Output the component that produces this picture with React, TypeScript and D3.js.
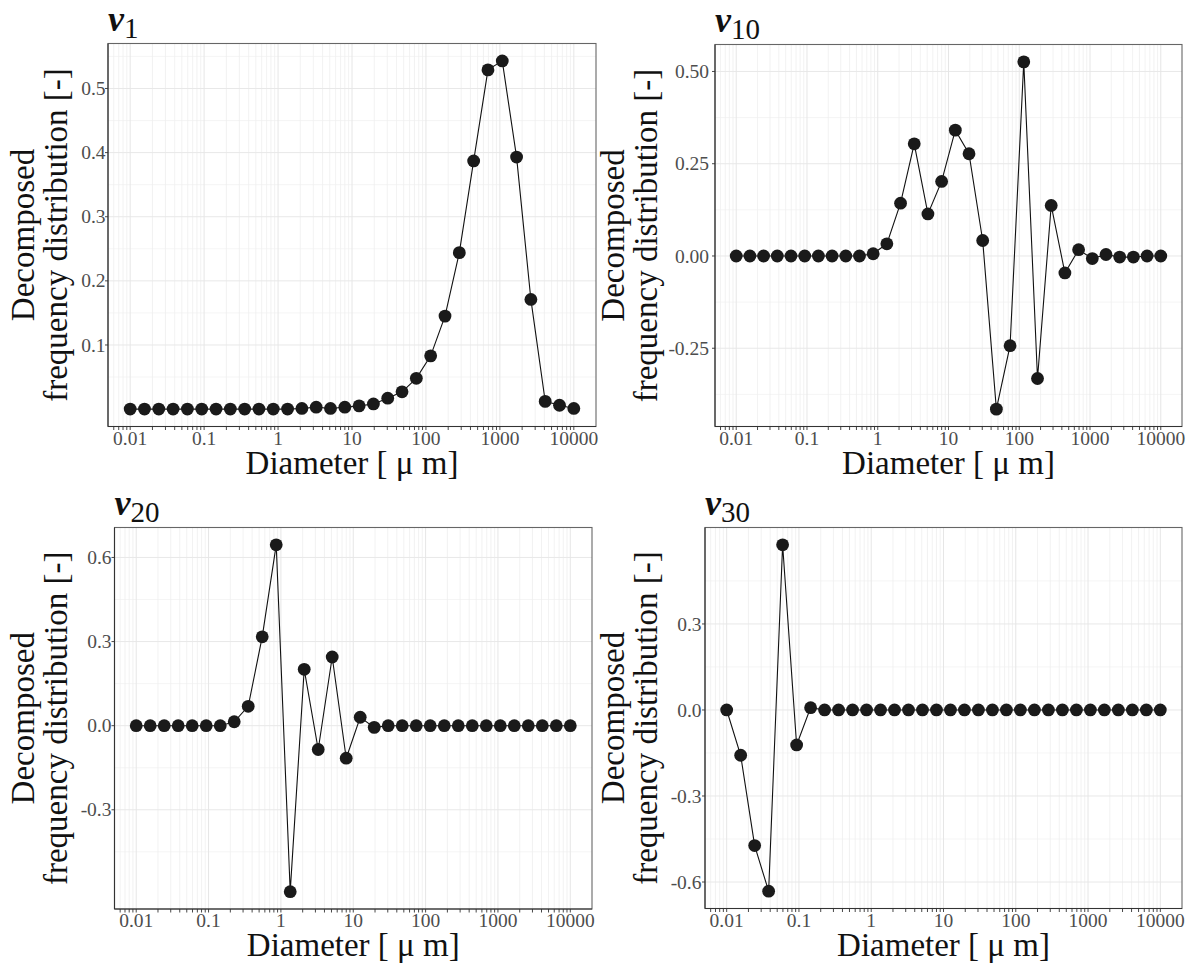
import React from 'react';
import * as d3 from 'd3';

// particle diameters [um], 32 log-spaced classes
const DIAMETERS = [
  0.01, 0.01561, 0.02438, 0.03806, 0.05942, 0.09284, 0.145, 0.2263, 0.3534, 0.5517, 0.8614,
  1.345, 2.1, 3.279, 5.119, 7.993, 12.48, 19.49, 30.42, 47.5, 74.16, 115.8, 181.1, 282.8,
  441.7, 689.9, 1077, 1682, 2626, 4102, 6405, 10000,
];

const V1 = [
  0, 0, 0, 0, 0, 0, 0, 0, 0, 0, 0, 0, 0.001, 0.003, 0.001, 0.003, 0.005, 0.008, 0.017, 0.027,
  0.048, 0.083, 0.145, 0.244, 0.387, 0.529, 0.543, 0.393, 0.171, 0.012, 0.006, 0.001,
];
const V10 = [
  0, 0, 0, 0, 0, 0, 0, 0, 0, 0, 0.006, 0.033, 0.143, 0.304, 0.114, 0.202, 0.341, 0.277, 0.042,
  -0.415, -0.243, 0.526, -0.332, 0.137, -0.046, 0.017, -0.007, 0.004, -0.003, -0.003, 0, 0,
];
const V20 = [
  0, 0, 0, 0, 0, 0, 0, 0.014, 0.069, 0.317, 0.645, -0.592, 0.201, -0.085, 0.245, -0.116, 0.03,
  -0.006, 0, 0, 0, 0, 0, 0, 0, 0, 0, 0, 0, 0, 0, 0,
];
const V30 = [
  0, -0.158, -0.473, -0.632, 0.576, -0.122, 0.008, 0, 0, 0, 0, 0, 0, 0, 0, 0, 0, 0, 0, 0, 0,
  0, 0, 0, 0, 0, 0, 0, 0, 0, 0, 0,
];

const X_TICKS = [0.01, 0.1, 1, 10, 100, 1000, 10000];
const X_LABELS = ['0.01', '0.1', '1', '10', '100', '1000', '10000'];

const V1_TICKS = [0.1, 0.2, 0.3, 0.4, 0.5];
const V1_LABELS = ['0.1', '0.2', '0.3', '0.4', '0.5'];
const V10_TICKS = [-0.25, 0, 0.25, 0.5];
const V10_LABELS = ['-0.25', '0.00', '0.25', '0.50'];
const V20_TICKS = [-0.3, 0, 0.3, 0.6];
const V20_LABELS = ['-0.3', '0.0', '0.3', '0.6'];
const V30_TICKS = [-0.6, -0.3, 0, 0.3];
const V30_LABELS = ['-0.6', '-0.3', '0.0', '0.3'];

const FONT = "'Liberation Serif', 'Times New Roman', serif";

const PANELS = [
  { sub: '1', values: V1, ticks: V1_TICKS, labels: V1_LABELS, left: 108, right: 596, top: 43.5, bottom: 426.5, gap: 2.5, tx: [33.5, 67.4] },
  { sub: '10', values: V10, ticks: V10_TICKS, labels: V10_LABELS, left: 715, right: 1182, top: 44.5, bottom: 426.5, gap: 6, tx: [623.5, 657.4] },
  { sub: '20', values: V20, ticks: V20_TICKS, labels: V20_LABELS, left: 114.5, right: 592, top: 527.5, bottom: 909, gap: 3, tx: [33.5, 67.4] },
  { sub: '30', values: V30, ticks: V30_TICKS, labels: V30_LABELS, left: 705, right: 1182, top: 527.5, bottom: 908.5, gap: 3.5, tx: [623.5, 657.4] },
];

const Panel = ({ p }: { p: (typeof PANELS)[number] }) => {
  const lo = Math.log10(X_TICKS[0]);
  const hi = Math.log10(X_TICKS[X_TICKS.length - 1]);
  const xpad = (hi - lo) * 0.05;
  const x = d3.scaleLog().domain([10 ** (lo - xpad), 10 ** (hi + xpad)]).range([p.left, p.right]);

  const [mn, mx] = d3.extent(p.values) as [number, number];
  const ypad = (mx - mn) * 0.05;
  const y = d3.scaleLinear().domain([mn - ypad, mx + ypad]).range([p.bottom, p.top]);
  const [d0, d1] = y.domain();

  const step = p.ticks[1] - p.ticks[0];
  const yMinor = [...p.ticks.map((t) => t - step / 2), p.ticks[p.ticks.length - 1] + step / 2].filter(
    (v) => v > d0 && v < d1
  );

  const xMinor: number[] = [];
  for (let n = -3; n <= 4; n++) {
    for (let k = 2; k <= 9; k++) {
      const v = k * 10 ** n;
      const [a, b] = x.domain();
      if (v > a && v < b) xMinor.push(v);
    }
  }

  const line = d3
    .line<number>()
    .x((_, i) => x(DIAMETERS[i]))
    .y((d) => y(d));

  const cx = (p.left + p.right) / 2;
  const cy = (p.top + p.bottom) / 2;

  return (
    <g>
      {/* grid */}
      {yMinor.map((v, i) => (
        <line key={'ym' + i} x1={p.left} x2={p.right} y1={y(v)} y2={y(v)} stroke="#f3f3f3" strokeWidth={0.8} />
      ))}
      {xMinor.map((v, i) => (
        <line key={'xm' + i} x1={x(v)} x2={x(v)} y1={p.top} y2={p.bottom} stroke="#efefef" strokeWidth={0.8} />
      ))}
      {p.ticks.map((v, i) => (
        <line key={'yM' + i} x1={p.left} x2={p.right} y1={y(v)} y2={y(v)} stroke="#e8e8e8" strokeWidth={1} />
      ))}
      {X_TICKS.map((v, i) => (
        <line key={'xM' + i} x1={x(v)} x2={x(v)} y1={p.top} y2={p.bottom} stroke="#e6e6e6" strokeWidth={1} />
      ))}

      {/* data */}
      <path d={line(p.values) ?? ''} fill="none" stroke="#111" strokeWidth={1.1} />
      {p.values.map((v, i) => (
        <circle key={'pt' + i} cx={x(DIAMETERS[i])} cy={y(v)} r={6.4} fill="#1a1a1a" />
      ))}

      {/* frame */}
      <rect x={p.left} y={p.top} width={p.right - p.left} height={p.bottom - p.top} fill="none" stroke="#666" strokeWidth={1.1} />
      <line x1={p.left} x2={p.left} y1={p.top} y2={p.bottom} stroke="#333" strokeWidth={1.1} />
      <line x1={p.left} x2={p.right} y1={p.bottom} y2={p.bottom} stroke="#333" strokeWidth={1.1} />

      {/* x ticks */}
      {[...xMinor, ...X_TICKS].map((v, i) => (
        <line key={'xt' + i} x1={x(v)} x2={x(v)} y1={p.bottom} y2={p.bottom + 3.5} stroke="#333" strokeWidth={0.9} />
      ))}
      {X_TICKS.map((v, i) => (
        <text key={'xl' + i} x={x(v)} y={p.bottom + 18} textAnchor="middle" fontSize={19.5} fill="#4d4d4d" fontFamily={FONT}>
          {X_LABELS[i]}
        </text>
      ))}

      {/* y ticks */}
      {p.ticks.map((v, i) => (
        <g key={'yt' + i}>
          <line x1={p.left - 3} x2={p.left} y1={y(v)} y2={y(v)} stroke="#333" strokeWidth={0.9} />
          <text x={p.left - p.gap} y={y(v)} dy="0.34em" textAnchor="end" fontSize={19.5} fill="#4d4d4d" fontFamily={FONT}>
            {p.labels[i]}
          </text>
        </g>
      ))}

      {/* axis titles */}
      <text x={cx} y={p.bottom + 47} textAnchor="middle" fontSize={33} fill="#111" fontFamily={FONT}>
        Diameter [ μ m]
      </text>
      <text transform={`translate(${p.tx[0]},${cy}) rotate(-90)`} textAnchor="middle" fontSize={33} fill="#111" fontFamily={FONT}>
        Decomposed
      </text>
      <text transform={`translate(${p.tx[1]},${cy}) rotate(-90)`} textAnchor="middle" fontSize={33} fill="#111" fontFamily={FONT}>
        frequency distribution [-]
      </text>

      {/* panel title */}
      <text x={p.left} y={p.top - 13} fontSize={36} fill="#111" fontFamily={FONT}>
        <tspan fontWeight="bold" fontStyle="italic">v</tspan>
        <tspan fontSize={29} dy={7}>{p.sub}</tspan>
      </text>
    </g>
  );
};

const App = () => {
  return (
    <svg width={1194} height={965} style={{ position: 'absolute', left: 0, top: 0, background: '#fff' }}>
      <rect width={1194} height={965} fill="#fff" />
      {PANELS.map((p) => (
        <Panel key={p.sub} p={p} />
      ))}
    </svg>
  );
};

export default App;
